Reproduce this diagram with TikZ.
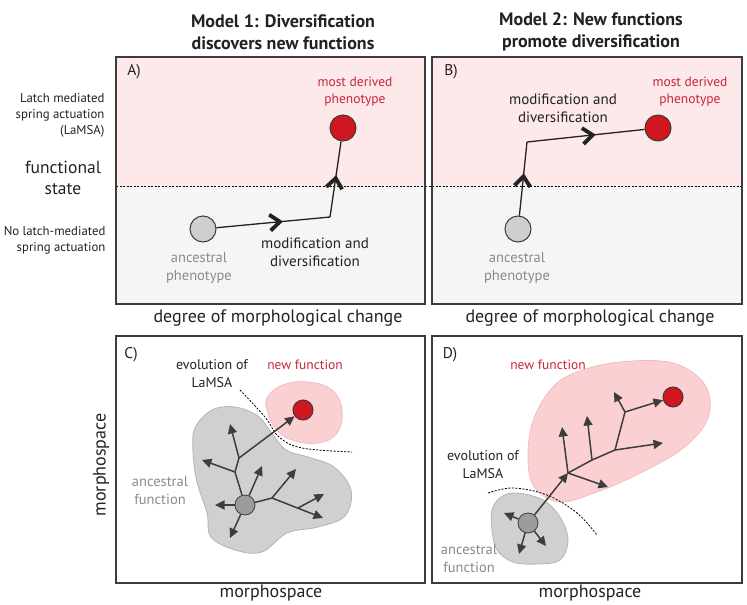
\documentclass[tikz,border=0pt]{standalone}
\usepackage{fontspec}
\setmainfont{PT Sans}
\usetikzlibrary{arrows.meta,decorations.markings}
\definecolor{pinkbg}{HTML}{FDE9EA}
\definecolor{graybg}{HTML}{F5F5F5}
\definecolor{redtxt}{HTML}{C8243F}
\definecolor{redfill}{HTML}{D0161E}
\definecolor{ancfill}{HTML}{CFCFCF}
\definecolor{treecol}{HTML}{3D3D3D}
\definecolor{blobpink}{HTML}{FBD0D3}
\definecolor{blobpinkline}{HTML}{F4B9BE}
\definecolor{blobgray}{HTML}{D0D0D0}
\definecolor{blobgrayline}{HTML}{B4B4B4}
\definecolor{cengray}{HTML}{9C9C9C}
\definecolor{txt}{HTML}{222222}
\definecolor{graytxt}{HTML}{8A8A8A}
\definecolor{frame}{HTML}{3C3C3C}
\begin{document}
\begin{tikzpicture}[x=1pt,y=-1pt,
  frm/.style={draw=frame,line width=1.4pt},
  sep/.style={draw=black,line width=0.9pt,dash pattern=on 2pt off 1.5pt},
  anc/.style={circle,draw=frame,fill=ancfill,line width=1pt,minimum size=26pt,inner sep=0pt},
  der/.style={circle,draw=frame,fill=redfill,line width=1pt,minimum size=26pt,inner sep=0pt},
  small/.style={circle,draw=frame,fill=redfill,line width=1pt,minimum size=20pt,inner sep=0pt},
  cen/.style={circle,draw=treecol,fill=cengray,line width=0.8pt,minimum size=20pt,inner sep=0pt},
  link/.style={draw=txt,line width=1.3pt},
  chev/.style={postaction={decorate},decoration={markings,mark=at position #1 with {\draw[txt,line width=3.8pt,line join=miter,line cap=butt] (-9pt,-8pt) -- (1pt,0pt) -- (-9pt,8pt);}}},
  tr/.style={draw=treecol,line width=1.5pt},
  tra/.style={draw=treecol,line width=1.5pt,-{Triangle[length=9.5pt,width=9pt]}},
  title/.style={font=\fontsize{18}{22}\selectfont\bfseries,text=txt,align=center},
  side/.style={font=\fontsize{12.8}{16}\selectfont,text=txt,align=right,anchor=east},
  big/.style={font=\fontsize{17.5}{21}\selectfont,text=txt,align=center},
  axis/.style={font=\fontsize{18}{20}\selectfont,text=txt,align=center},
  plab/.style={font=\fontsize{15.5}{18}\selectfont,text=txt},
  redlbl/.style={font=\fontsize{13.5}{17}\selectfont,text=redtxt,align=center},
  graylbl/.style={font=\fontsize{14.5}{18}\selectfont,text=graytxt,align=center},
  blk/.style={font=\fontsize{15}{18}\selectfont,text=txt,align=center},
  lbl/.style={font=\fontsize{14}{18}\selectfont,text=txt,align=center},
]
\useasboundingbox (0,0) rectangle (747,605);

% ---------- titles ----------
\node[title] (t1) at (283,32) {Model 1: Diversification\\discovers new functions};
\node[title] (t2) at (591,32) {Model 2: New functions\\promote diversification};

% ---------- left labels ----------
\node[side] (l1) at (108,115) {Latch mediated\\spring actuation\\(LaMSA)};
\node[big] (l2) at (63,178) {functional\\state};
\node[side] (l3) at (109,240) {No latch-mediated\\spring actuation};

% ---------- panel A ----------
\fill[pinkbg] (116,57) rectangle (425,186);
\fill[graybg] (116,186) rectangle (425,304);
\draw[sep] (116,186) -- (425,186);
\draw[frm] (116,57) rectangle (425,304);
\node[plab] (pa) at (134,72) {A)};
\node[anc] (ancA) at (203,229) {};
\node[der] (derA) at (343,128) {};
\coordinate (cornA) at (330,217);
\draw[link,chev=0.55] (ancA) -- (cornA);
\draw[link,chev=0.5] (cornA) -- (derA);
\node[redlbl] (mdA) at (355,92) {most derived\\phenotype};
\node[graylbl] (apA) at (199,268) {ancestral\\phenotype};
\node[blk] (mA) at (315,252) {modification and\\diversification};
\node[axis] (xA) at (278,318) {degree of morphological change};

% ---------- panel B ----------
\fill[pinkbg] (432,57) rectangle (742,186);
\fill[graybg] (432,186) rectangle (742,304);
\draw[sep] (425,186) -- (742,186);
\draw[frm] (432,57) rectangle (742,304);
\node[plab] (pb) at (451,72) {B)};
\node[anc] (ancB) at (518,229) {};
\node[der] (derB) at (658,128) {};
\coordinate (cornB) at (527,142);
\draw[link,chev=0.52] (ancB) -- (cornB);
\draw[link,chev=0.55] (cornB) -- (derB);
\node[redlbl] (mdB) at (690,92) {most derived\\phenotype};
\node[graylbl] (apB) at (517,268) {ancestral\\phenotype};
\node[blk] (mB) at (563,108) {modification and\\diversification};
\node[axis] (xB) at (590,318) {degree of morphological change};

% ---------- panel C ----------
\draw[frm] (116,336) rectangle (425,583);
\node[plab] (pc) at (131,355) {C)};
\filldraw[fill=blobpink,draw=blobpinkline,line width=0.8pt] plot[smooth cycle,tension=0.7] coordinates
  {(267,398) (283,385) (308,382) (332,390) (342,410) (337,433) (318,443) (292,440) (276,429) (268,413)};
\filldraw[fill=blobgray,draw=blobgrayline,line width=0.8pt] plot[smooth cycle,tension=0.6] coordinates
  {(195,428) (212,410) (235,407) (258,416) (271,432) (286,450) (308,457) (334,467) (351,490) (345,516) (318,527) (287,533) (262,552) (235,550) (211,537) (207,513) (197,482) (193,452)};
\draw[sep,line width=0.8pt] plot[smooth,tension=0.6] coordinates {(240,390) (265,417) (279,437) (302,448) (352,452)};
\node[cen] (cenC) at (245,505) {};
\node[small] (derC) at (303,410) {};
\coordinate (c1) at (215,505);
\coordinate (c2) at (230,538);
\coordinate (b1) at (235,472);
\coordinate (c3) at (202,460);
\coordinate (b2) at (239,458);
\coordinate (c4) at (230,424);
\coordinate (c5) at (262,466);
\coordinate (b3) at (272,498);
\coordinate (c6) at (296,469);
\coordinate (b4) at (298,508);
\coordinate (c7) at (323,518);
\coordinate (c8) at (324,494);
\draw[tra] (cenC) -- (c1);
\draw[tra] (cenC) -- (c2);
\draw[tr] (cenC) -- (b1) -- (b2);
\draw[tra] (b1) -- (c3);
\draw[tra] (b2) -- (c4);
\draw[tra] (b2) -- (derC);
\draw[tra] (cenC) -- (c5);
\draw[tr] (cenC) -- (b3);
\draw[tra] (b3) -- (c6);
\draw[tra] (b3) -- (c7);
\draw[tra] (b4) -- (c8);
\node[lbl] (evC) at (212,374) {evolution of\\LaMSA};
\node[redlbl,font=\fontsize{13.5}{18}\selectfont] (nfC) at (305,365) {new function};
\node[graylbl] (afC) at (160,491) {ancestral\\function};
\node[axis] (xC) at (271,593) {morphospace};
\node[axis,rotate=90] (yC) at (101,465) {morphospace};

% ---------- panel D ----------
\draw[frm] (432,336) rectangle (742,583);
\node[plab] (pd) at (450,355) {D)};
\filldraw[fill=blobpink,draw=blobpinkline,line width=0.8pt] plot[smooth cycle,tension=0.6] coordinates
  {(577,372) (620,362) (673,363) (705,385) (708,418) (682,449) (634,476) (594,493) (560,502) (535,488) (528,460) (533,421) (552,388)};
\filldraw[fill=blobgray,draw=blobgrayline,line width=0.8pt] plot[smooth cycle,tension=0.6] coordinates
  {(492,510) (501,497) (517,493) (543,500) (560,517) (568,540) (560,560) (537,564) (513,562) (497,550) (492,530)};
\draw[sep,line width=0.8pt] plot[smooth,tension=0.6] coordinates {(488,493) (513,488) (547,495) (577,513) (597,535)};
\node[cen] (cenD) at (528,523) {};
\node[small] (derD) at (673,397) {};
\coordinate (d1) at (504,513);
\coordinate (d2) at (519,554);
\coordinate (d3) at (546,546);
\coordinate (e1) at (568,473);
\coordinate (d4) at (608,487);
\coordinate (d5) at (562,427);
\coordinate (e2) at (592,460);
\coordinate (d6) at (587,416);
\coordinate (e3) at (615,450);
\coordinate (d7) at (663,443);
\coordinate (e4) at (625,412);
\coordinate (d8) at (614,392);
\draw[tra] (cenD) -- (d1);
\draw[tra] (cenD) -- (d2);
\draw[tra] (cenD) -- (d3);
\draw[tra] (cenD) -- (e1);
\draw[tr] (e1) -- (e2) -- (e3) -- (e4);
\draw[tra] (e1) -- (d4);
\draw[tra] (e1) -- (d5);
\draw[tra] (e2) -- (d6);
\draw[tra] (e3) -- (d7);
\draw[tra] (e4) -- (d8);
\draw[tra] (e4) -- (derD);
\node[lbl] (evD) at (483,465) {evolution of\\LaMSA};
\node[redlbl,font=\fontsize{13.5}{18}\selectfont] (nfD) at (548,365) {new function};
\node[graylbl] (afD) at (469,559) {ancestral\\function};
\node[axis] (xD) at (590,593) {morphospace};
\end{tikzpicture}
\end{document}
